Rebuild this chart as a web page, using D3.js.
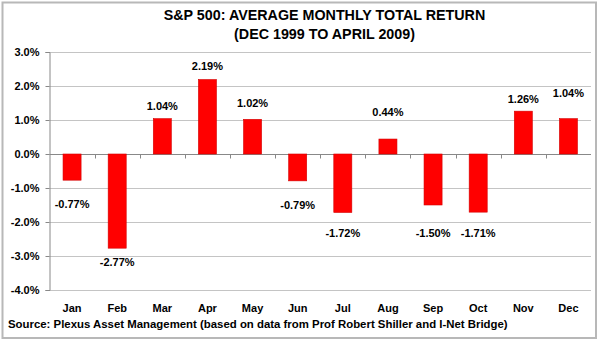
<!DOCTYPE html>
<html>
<head>
<meta charset="utf-8">
<script src="https://cdn.jsdelivr.net/npm/d3@7"></script>
<style>
  body { margin: 0; background: #fff; }
  svg { display: block; font-family: Arial, "Liberation Sans", sans-serif; }
</style>
</head>
<body>
<div id="chart"></div>
<script>
const months = ["Jan", "Feb", "Mar", "Apr", "May", "Jun", "Jul", "Aug", "Sep", "Oct", "Nov", "Dec"];
const avgReturn = [-0.77, -2.77, 1.04, 2.19, 1.02, -0.79, -1.72, 0.44, -1.50, -1.71, 1.26, 1.04];
const yTicks = [3, 2, 1, 0, -1, -2, -3, -4];

const titleLines = ["S&P 500: AVERAGE MONTHLY TOTAL RETURN", "(DEC 1999 TO APRIL 2009)"];
const sourceNote = "Source: Plexus Asset Management (based on data from Prof Robert Shiller and I-Net Bridge)";

const width = 599;
const height = 341;
const margin = { top: 52, right: 8, bottom: 51, left: 49.5 };

// distance (px) from the end of each bar to the centre of its value label
const labelGap = [23.7, 14.4, 12.4, 13, 16.5, 24, 20.3, 26.7, 27.7, 20.6, 12.4, 25];

const data = months.map((m, i) => ({ month: m, value: avgReturn[i], gap: labelGap[i] }));

// plain hyphen for negatives
const locale = d3.formatLocale({ decimal: ".", thousands: ",", grouping: [3], currency: ["", ""], minus: "-" });
const pct1 = d => locale.format(".1f")(d) + "%";
const pct2 = d => locale.format(".2f")(d) + "%";

const svg = d3.select("#chart")
  .append("svg")
  .attr("width", width)
  .attr("height", height);

// outer frame
svg.append("rect")
  .attr("x", 2.5)
  .attr("y", 2.5)
  .attr("width", width - 5.5)
  .attr("height", height - 5.5)
  .attr("fill", "#fff")
  .attr("stroke", "#b8b8b8")
  .attr("stroke-width", 2);

const x = d3.scaleBand()
  .domain(months)
  .range([margin.left, width - margin.right])
  .paddingInner(0.6)
  .paddingOuter(0.3);

const y = d3.scaleLinear()
  .domain([-4, 3])
  .range([height - margin.bottom, margin.top]);

// horizontal gridlines
svg.append("g")
  .selectAll("line")
  .data(yTicks)
  .enter()
  .append("line")
  .attr("x1", margin.left)
  .attr("x2", width - margin.right)
  .attr("y1", d => Math.round(y(d)) + 0.5)
  .attr("y2", d => Math.round(y(d)) + 0.5)
  .attr("stroke", "#c4c4c4")
  .attr("stroke-width", 1);

// value axis
const yAxis = d3.axisLeft(y)
  .tickValues(yTicks)
  .tickSize(4)
  .tickPadding(6)
  .tickFormat(pct1);

const yG = svg.append("g")
  .attr("transform", `translate(${margin.left}, 0)`)
  .call(yAxis);
yG.select(".domain").attr("stroke", "#888");
yG.selectAll(".tick line").attr("stroke", "#888");
yG.selectAll(".tick text")
  .attr("fill", "#000")
  .style("font-size", "11px")
  .style("font-weight", "bold");

// zero line with category separators
const zeroY = Math.round(y(0)) + 0.5;
svg.append("line")
  .attr("x1", margin.left)
  .attr("x2", width - margin.right)
  .attr("y1", zeroY)
  .attr("y2", zeroY)
  .attr("stroke", "#888");

svg.append("g")
  .selectAll("line")
  .data(months.slice(1))
  .enter()
  .append("line")
  .attr("x1", d => Math.round(x(d) - x.step() * x.paddingInner() / 2) + 0.5)
  .attr("x2", d => Math.round(x(d) - x.step() * x.paddingInner() / 2) + 0.5)
  .attr("y1", zeroY)
  .attr("y2", zeroY + 4)
  .attr("stroke", "#888");

// bars
svg.append("g")
  .selectAll("rect")
  .data(data)
  .enter()
  .append("rect")
  .attr("x", d => x(d.month))
  .attr("y", d => d.value >= 0 ? y(d.value) : y(0))
  .attr("width", x.bandwidth())
  .attr("height", d => Math.abs(y(d.value) - y(0)))
  .attr("fill", "#ff0000")
  .attr("stroke", "#d40000")
  .attr("stroke-width", 0.6);

// value labels
svg.append("g")
  .selectAll("text")
  .data(data)
  .enter()
  .append("text")
  .attr("x", d => x(d.month) + x.bandwidth() / 2)
  .attr("y", d => d.value >= 0 ? y(d.value) - d.gap : y(d.value) + d.gap)
  .attr("dy", "0.35em")
  .attr("text-anchor", "middle")
  .style("font-size", "11px")
  .style("font-weight", "bold")
  .text(d => pct2(d.value));

// month labels
svg.append("g")
  .selectAll("text")
  .data(months)
  .enter()
  .append("text")
  .attr("x", d => x(d) + x.bandwidth() / 2)
  .attr("y", 308)
  .attr("dy", "0.35em")
  .attr("text-anchor", "middle")
  .style("font-size", "11px")
  .style("font-weight", "bold")
  .text(d => d);

// title
svg.append("g")
  .selectAll("text")
  .data(titleLines)
  .enter()
  .append("text")
  .attr("x", 324.5)
  .attr("y", (d, i) => 19.5 + i * 19.5)
  .attr("text-anchor", "middle")
  .style("font-size", "14.3px")
  .style("font-weight", "bold")
  .text(d => d);

// source note
svg.append("text")
  .attr("x", 8)
  .attr("y", 324.5)
  .attr("dy", "0.35em")
  .style("font-size", "11.4px")
  .style("font-weight", "bold")
  .text(sourceNote);
</script>
</body>
</html>
